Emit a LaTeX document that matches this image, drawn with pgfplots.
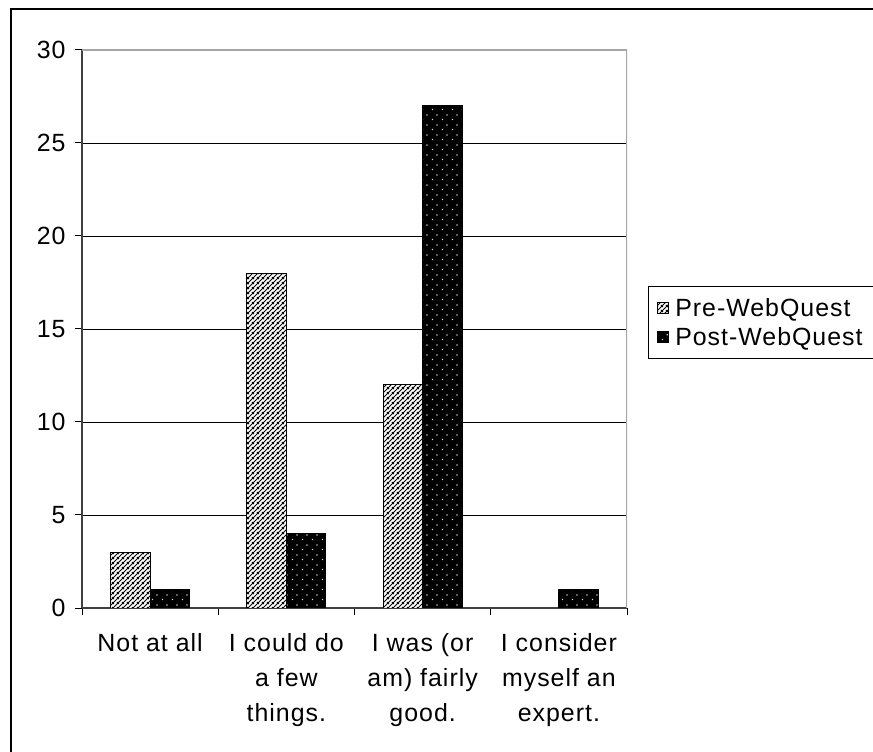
\documentclass[border=0pt]{standalone}
\usepackage{fontspec}
\setmainfont{Liberation Sans}[LetterSpace=4]
\usepackage{pgfplots}
\pgfplotsset{compat=1.18}
\usetikzlibrary{patterns,patterns.meta}

% diagonal hatching for the pre bars
\tikzdeclarepattern{
  name=hatchne,
  type=uncolored,
  bottom left={(0bp,0bp)},
  top right={(4.5bp,4.5bp)},
  tile size={(4.5bp,4.5bp)},
  code={
    \draw[line width=1.1bp] (-1bp,3.5bp) -- (1bp,5.5bp);
    \draw[line width=1.1bp] (-1bp,-1bp) -- (5.5bp,5.5bp);
    \draw[line width=1.1bp] (3.5bp,-1bp) -- (5.5bp,1bp);
  }
}
% sparse staggered dots for the post bars
\tikzdeclarepattern{
  name=sdots,
  type=uncolored,
  bottom left={(0bp,0bp)},
  top right={(10bp,10bp)},
  tile size={(10bp,10bp)},
  code={
    \fill (2bp,2bp) rectangle (3.3bp,3.3bp);
    \fill (7bp,7bp) rectangle (8.3bp,8.3bp);
  }
}

\newcommand{\chartfont}{\fontsize{25}{35}\selectfont}

\begin{document}
\begin{tikzpicture}
\useasboundingbox (0bp,0bp) rectangle (873bp,752bp);
\draw[line width=2.4bp] (11bp,-10bp) -- (11bp,743bp) -- (890bp,743bp);
\begin{axis}[
    at={(82bp,144bp)}, anchor=south west,
    scale only axis, width=545bp, height=558bp,
    ybar=0pt, bar width=39.5bp,
    xmin=-0.5, xmax=3.5,
    ymin=0, ymax=30,
    axis lines=left,
    axis line style={-, draw=black!75, line width=1.5bp},
    tick align=outside,
    major tick length=7bp,
    tick style={black, line width=1bp},
    ytick={0,5,...,30},
    yticklabel style={xshift=-6bp},
    ymajorgrids, grid style={black, line width=0.8bp},
    xtick={-0.5,0.5,1.5,2.5,3.5}, xticklabels={{},{},{},{},{}},
    extra x ticks={0,1,2,3},
    extra x tick labels={Not at all, {I could do\\a few\\things.}, {I was (or\\am) fairly\\good.}, {I consider\\myself an\\expert.}},
    extra x tick style={major tick length=0pt, xticklabel style={align=center, yshift=-22bp}},
    tick label style={font=\chartfont},
    /pgf/number format/assume math mode=true,
    legend style={at={(1.0385,0.5771)}, anchor=north west,
        draw=black, line width=1bp, font=\chartfont,
        inner xsep=9bp, inner ysep=10bp, row sep=5bp, column sep=4bp,
        nodes={inner sep=2bp}, cells={anchor=west}},
    legend image code/.code={\draw[#1, line width=0.8bp] (0bp,-5.5bp) rectangle (11bp,5.5bp);},
]
\addplot[draw=black, line width=1bp, fill=white, postaction={pattern=hatchne, pattern color=black}]
    coordinates {(0,3) (1,18) (2,12)};
\addplot[draw=black, line width=1bp, fill=black, postaction={pattern=sdots, pattern color=white!85!black}]
    coordinates {(0,1) (1,4) (2,27) (3,1)};
\legend{Pre-WebQuest, Post-WebQuest}
\draw[gray!70, line width=1.5bp] (rel axis cs:0,1) -- (rel axis cs:1,1) -- (rel axis cs:1,0);
\end{axis}
\end{tikzpicture}
\end{document}
